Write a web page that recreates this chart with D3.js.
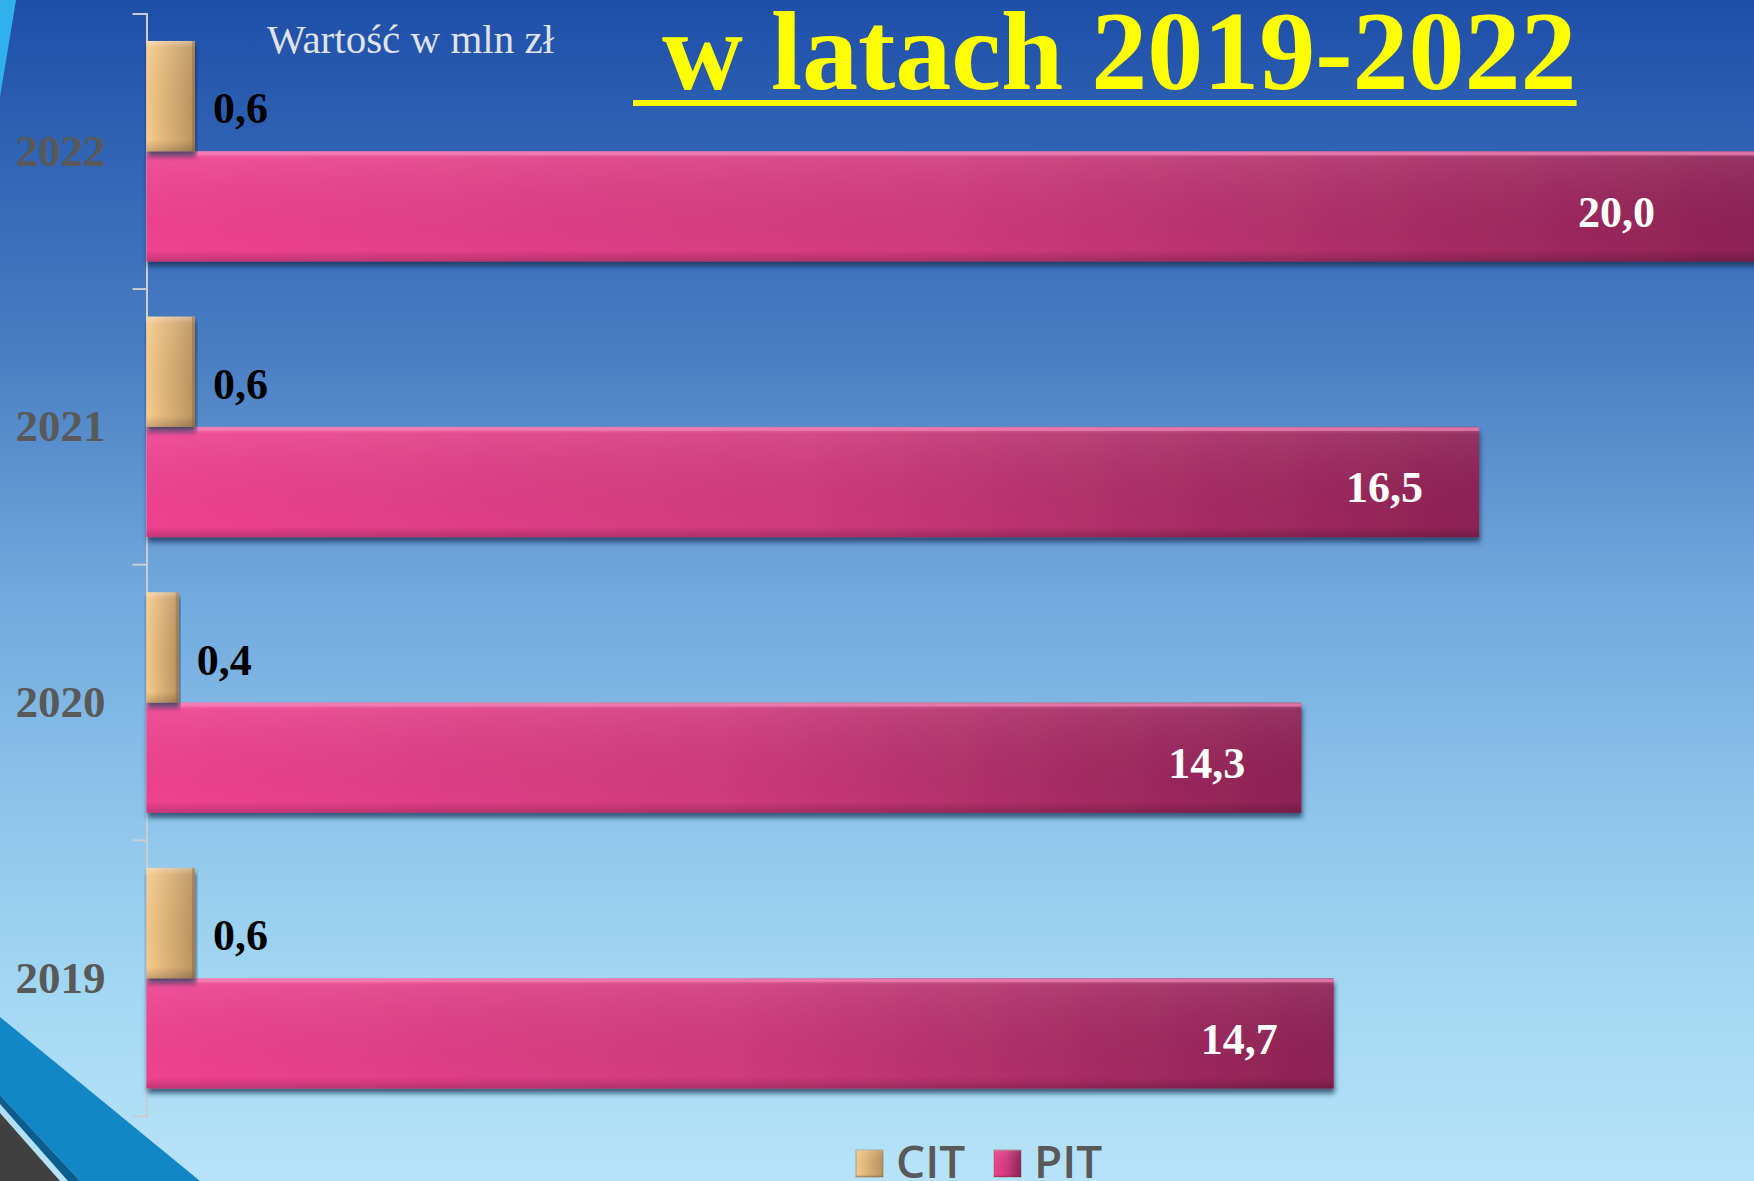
<!DOCTYPE html>
<html>
<head>
<meta charset="utf-8">
<script src="https://cdn.jsdelivr.net/npm/d3@7"></script>
<style>
  html, body { margin: 0; padding: 0; overflow: hidden; }
  svg { display: block; }
</style>
</head>
<body>
<svg id="mySvg"></svg>
<script>
const width = 1754;
const height = 1181;

// data
const years = ["2022", "2021", "2020", "2019"];
const series = ["CIT", "PIT"];
const citValues = [0.6, 0.6, 0.4, 0.6];
const pitValues = [20.0, 16.5, 14.3, 14.7];
const titleText = "w latach 2019-2022";
const unitText = "Wartość w mln zł";

const fmt = (v) => v.toFixed(1).replace(".", ",");

const svg = d3.select("#mySvg").attr("width", width).attr("height", height);
const defs = svg.append("defs");

// background gradient
const bg = defs.append("linearGradient").attr("id", "bg")
  .attr("x1", 0).attr("y1", 0).attr("x2", 0).attr("y2", 1);
[[0, "#1f4ea8"], [0.12, "#2f62b3"], [0.3, "#4a7ec3"], [0.5, "#72a8dc"],
 [0.7, "#90c6ec"], [0.85, "#a4d9f3"], [1, "#b6e3f7"]].forEach(([o, c]) => {
  bg.append("stop").attr("offset", o).attr("stop-color", c);
});

const pitGrad = defs.append("linearGradient").attr("id", "pitGrad")
  .attr("x1", 0).attr("y1", 0).attr("x2", 1).attr("y2", 0);
pitGrad.append("stop").attr("offset", 0).attr("stop-color", "#ef4291");
pitGrad.append("stop").attr("offset", 0.5).attr("stop-color", "#cf3a7b");
pitGrad.append("stop").attr("offset", 1).attr("stop-color", "#8c2253");

const citGrad = defs.append("linearGradient").attr("id", "citGrad")
  .attr("x1", 0).attr("y1", 0).attr("x2", 1).attr("y2", 0);
citGrad.append("stop").attr("offset", 0).attr("stop-color", "#f8cb89");
citGrad.append("stop").attr("offset", 1).attr("stop-color", "#ba9262");

// bevel overlay: light top, dark bottom
const bevel = defs.append("linearGradient").attr("id", "bevel")
  .attr("x1", 0).attr("y1", 0).attr("x2", 0).attr("y2", 1);
bevel.append("stop").attr("offset", 0).attr("stop-color", "#ffffff").attr("stop-opacity", 0.35);
bevel.append("stop").attr("offset", 0.06).attr("stop-color", "#ffffff").attr("stop-opacity", 0.08);
bevel.append("stop").attr("offset", 0.9).attr("stop-color", "#000000").attr("stop-opacity", 0);
bevel.append("stop").attr("offset", 1).attr("stop-color", "#000000").attr("stop-opacity", 0.18);

const shadow = defs.append("filter").attr("id", "shadow")
  .attr("x", "-5%").attr("y", "-20%").attr("width", "110%").attr("height", "150%");
shadow.append("feDropShadow").attr("dx", 1).attr("dy", 5).attr("stdDeviation", 2.5)
  .attr("flood-color", "#142a4c").attr("flood-opacity", 0.7);

svg.append("rect").attr("width", width).attr("height", height).attr("fill", "url(#bg)");

// slide decorations
svg.append("polygon").attr("points", "0,0 16,0 0,97").attr("fill", "#2fb1ec");
svg.append("polygon").attr("points", "0,1017 200,1181 80,1181 0,1095").attr("fill", "#1386c6");
svg.append("polygon").attr("points", "0,1095 80,1181 68,1181 0,1104").attr("fill", "#0c5d8e");
svg.append("polygon").attr("points", "0,1113 60,1181 0,1181").attr("fill", "#404040");

// scales
const y = d3.scaleBand().domain(years).range([13.4, 1116]).padding(0);
const yInner = d3.scaleBand().domain(series).range([0, y.bandwidth()])
  .paddingInner(0).paddingOuter(0.25);
const x = d3.scaleLinear().domain([0, 20]).range([146.5, 1761.7]);

const rows = years.map((yr, i) => ({ year: yr, CIT: citValues[i], PIT: pitValues[i] }));

const serif = "'Liberation Serif', 'Times New Roman', serif";

// axis
const axis = svg.append("g").attr("transform", `translate(${x(0)},0)`)
  .call(d3.axisLeft(y).tickSize(0).tickSizeOuter(14).tickPadding(41));
axis.select(".domain").attr("stroke", "#c9ccd2").attr("stroke-width", 2);
axis.selectAll(".tick text")
  .attr("fill", "#595959")
  .style("font-family", serif)
  .style("font-weight", "bold")
  .style("font-size", "45px");

// inner boundary ticks between categories
svg.append("g").selectAll("line")
  .data(years.slice(1))
  .join("line")
  .attr("x1", x(0) - 14).attr("x2", x(0))
  .attr("y1", (d) => y(d)).attr("y2", (d) => y(d))
  .attr("stroke", "#c9ccd2").attr("stroke-width", 2);

const groups = svg.append("g").selectAll("g")
  .data(rows)
  .join("g")
  .attr("transform", (d) => `translate(0,${y(d.year)})`);

// PIT bars
groups.append("rect")
  .attr("x", x(0)).attr("y", yInner("PIT"))
  .attr("width", (d) => x(d.PIT) - x(0)).attr("height", yInner.bandwidth())
  .attr("fill", "url(#pitGrad)").attr("filter", "url(#shadow)");
groups.append("rect")
  .attr("x", x(0)).attr("y", yInner("PIT"))
  .attr("width", (d) => x(d.PIT) - x(0)).attr("height", yInner.bandwidth())
  .attr("fill", "url(#bevel)");
groups.append("rect")
  .attr("x", x(0)).attr("y", yInner("PIT") + 1)
  .attr("width", (d) => x(d.PIT) - x(0)).attr("height", 3)
  .attr("fill", "#f77db6").attr("opacity", 0.7);

// CIT bars
groups.append("rect")
  .attr("x", x(0)).attr("y", yInner("CIT"))
  .attr("width", (d) => x(d.CIT) - x(0)).attr("height", yInner.bandwidth())
  .attr("fill", "url(#citGrad)").attr("filter", "url(#shadow)");
groups.append("rect")
  .attr("x", x(0)).attr("y", yInner("CIT"))
  .attr("width", (d) => x(d.CIT) - x(0)).attr("height", yInner.bandwidth())
  .attr("fill", "url(#bevel)");
groups.append("rect")
  .attr("x", (d) => x(d.CIT) - 3).attr("y", yInner("CIT"))
  .attr("width", 3).attr("height", yInner.bandwidth())
  .attr("fill", "#7a5a30").attr("opacity", 0.35);

// value labels
groups.append("text")
  .attr("x", (d) => x(d.CIT) + 18)
  .attr("y", yInner("CIT") + yInner.bandwidth() / 2 + 12)
  .attr("dy", "0.35em")
  .attr("fill", "#000")
  .style("font-family", serif).style("font-weight", "bold").style("font-size", "44px")
  .text((d) => fmt(d.CIT));

groups.append("text")
  .attr("x", (d) => Math.min(x(d.PIT), width - 43) - 56)
  .attr("y", yInner("PIT") + yInner.bandwidth() / 2 + 5)
  .attr("dy", "0.35em")
  .attr("text-anchor", "end")
  .attr("fill", "#fff")
  .style("font-family", serif).style("font-weight", "bold").style("font-size", "44px")
  .text((d) => fmt(d.PIT));

// unit note
svg.append("text")
  .attr("x", 267).attr("y", 53)
  .attr("fill", "#dfe3e8")
  .style("font-family", serif).style("font-size", "41px")
  .text(unitText);

// title with underline
const title = svg.append("text")
  .attr("x", 662).attr("y", 89)
  .attr("fill", "#ffff00")
  .style("font-family", serif).style("font-weight", "bold").style("font-size", "112px")
  .text(titleText);
const tl = title.node().getComputedTextLength();
svg.append("rect")
  .attr("x", 633).attr("y", 100)
  .attr("width", 662 + tl - 633).attr("height", 6)
  .attr("fill", "#ffff00");

// legend
const legendColors = { CIT: "url(#citGrad)", PIT: "url(#pitGrad)" };
const legendX = [856, 994];
const legend = svg.append("g").selectAll("g")
  .data(series)
  .join("g")
  .attr("transform", (d, i) => `translate(${legendX[i]},1150)`);
legend.append("rect").attr("width", 27).attr("height", 27)
  .attr("fill", (d) => legendColors[d]).attr("stroke", "#6b4a2a").attr("stroke-opacity", 0.4);
legend.append("rect").attr("width", 27).attr("height", 27).attr("fill", "url(#bevel)");
legend.append("text")
  .attr("x", 40).attr("y", 28)
  .attr("fill", "#595959")
  .style("font-family", "'Open Sans', sans-serif").style("font-weight", 600).style("font-size", "46px")
  .text((d) => d);
</script>
</body>
</html>
